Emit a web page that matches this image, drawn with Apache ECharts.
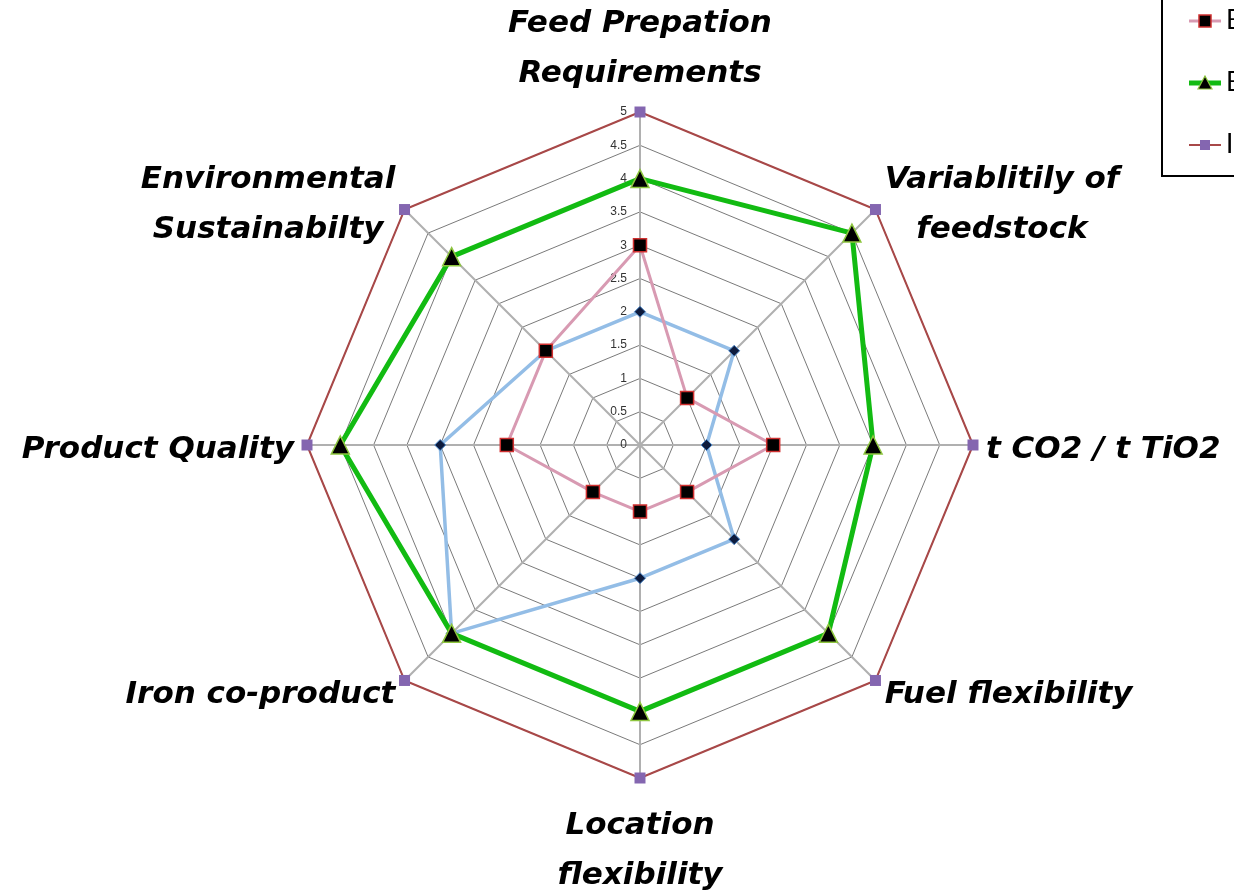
<!DOCTYPE html>
<html>
<head>
<meta charset="utf-8">
<script src="https://cdn.jsdelivr.net/npm/echarts@6/dist/echarts.min.js"></script>
<style>
  html, body { margin: 0; padding: 0; background: #fff; }
  #main { width: 1234px; height: 895px; }
</style>
</head>
<body>
<div id="main"></div>
<script>
// indicators, counterclockwise from the top
var indicatorNames = [
  'Feed Prepation\nRequirements',
  'Environmental\nSustainabilty',
  'Product Quality',
  'Iron co-product',
  'Location\nflexibility',
  'Fuel flexibility',
  't CO2 / t TiO2',
  'Variablitily of\nfeedstock'
];
var seriesNames = ['Chloride', 'Becher', 'Benilite', 'Ideal'];
var chlorideVals = [2, 2, 3, 4, 2, 2, 1, 2];
var becherVals = [3, 2, 2, 1, 1, 1, 2, 1];
var beniliteVals = [4, 4, 4.5, 4, 4, 4, 3.5, 4.5];
var idealVals = [5, 5, 5, 5, 5, 5, 5, 5];
var maxVal = 5;

var myChart = echarts.init(document.getElementById('main'));

// legend icon = short line with the marker on it
function legendIcon(lineColor, lineW, marker) {
  var svg = "<svg xmlns='http://www.w3.org/2000/svg' width='32' height='16'>" +
    "<line x1='0' y1='8' x2='32' y2='8' stroke='" + lineColor + "' stroke-width='" + lineW + "'/>" +
    marker + "</svg>";
  return 'image://data:image/svg+xml;charset=utf-8,' + encodeURIComponent(svg);
}

var nameFont = {
  color: '#000',
  fontFamily: 'DejaVu Sans',
  fontStyle: 'italic',
  fontWeight: 'bold',
  fontSize: 31,
  lineHeight: 50
};

var option = {
  backgroundColor: '#fff',
  animation: false,
  legend: {
    orient: 'vertical',
    left: 1162,
    top: -72,
    padding: [18, 10, 18, 27],
    itemGap: 36,
    itemWidth: 32,
    itemHeight: 16,
    borderColor: '#000',
    borderWidth: 2,
    textStyle: { fontFamily: 'Lato', fontSize: 26, lineHeight: 26, color: '#000' },
    data: [
      { name: seriesNames[0], icon: legendIcon('#93bde6', 3, "<rect x='11' y='3' width='10' height='10' transform='rotate(45 16 8)' fill='#0d1b3d'/>") },
      { name: seriesNames[1], icon: legendIcon('#d89ab2', 3, "<rect x='10' y='2' width='12' height='12' fill='#000' stroke='#d03030' stroke-width='1.5'/>") },
      { name: seriesNames[2], icon: legendIcon('#12bb12', 5, "<polygon points='16,1 23,14 9,14' fill='#000' stroke='#8ec63f' stroke-width='1.2'/>") },
      { name: seriesNames[3], icon: legendIcon('#a84848', 2, "<rect x='11' y='3' width='10' height='10' fill='#8466b0'/>") }
    ]
  },
  radar: [
    {
      center: [640, 445],
      radius: 333,
      startAngle: 90,
      shape: 'polygon',
      splitNumber: 10,
      indicator: indicatorNames.map(function (n) { return { name: n, min: 0, max: maxVal }; }),
      axisName: {
        padding: [10, 0, 0, 0],
        formatter: function (v) {
          return v.split('\n').map(function (s) { return '{n|' + s + '}'; }).join('\n');
        },
        rich: { n: Object.assign({ align: 'center' }, nameFont) }
      },
      nameGap: 13,
      splitArea: { show: false },
      splitLine: { lineStyle: { color: '#7a7a7a', width: 1 } },
      axisLine: { lineStyle: { color: '#b0b0b0', width: 2 } }
    },
    {
      // tick labels on the top axis only
      center: [640, 445],
      radius: 333,
      startAngle: 90,
      shape: 'polygon',
      splitNumber: 10,
      indicator: [{ name: '', min: 0, max: maxVal }],
      axisName: { show: false },
      splitArea: { show: false },
      splitLine: { show: false },
      axisLine: { show: false },
      axisTick: { show: false },
      axisLabel: { show: true, fontSize: 12, color: '#333', fontFamily: 'Liberation Sans', margin: 13 }
    }
  ],
  series: [
    {
      type: 'radar',
      radarIndex: 0,
      z: 3,
      data: [{
        name: seriesNames[0],
        value: chlorideVals,
        symbol: 'diamond',
        symbolSize: 11,
        lineStyle: { color: '#93bde6', width: 3.5 },
        itemStyle: { color: '#0d1b3d', borderColor: '#4a86c8', borderWidth: 1 }
      }, {
        name: seriesNames[1],
        value: becherVals,
        symbol: 'rect',
        symbolSize: 13,
        lineStyle: { color: '#d89ab2', width: 3 },
        itemStyle: { color: '#000', borderColor: '#d03030', borderWidth: 1.5 }
      }, {
        name: seriesNames[2],
        value: beniliteVals,
        symbol: 'triangle',
        symbolSize: 18,
        lineStyle: { color: '#12bb12', width: 5 },
        itemStyle: { color: '#000', borderColor: '#8ec63f', borderWidth: 1.5 }
      }, {
        name: seriesNames[3],
        value: idealVals,
        symbol: 'rect',
        symbolSize: 11,
        lineStyle: { color: '#a84848', width: 2 },
        itemStyle: { color: '#8466b0', borderColor: '#8466b0', borderWidth: 0 }
      }]
    }
  ]
};

myChart.setOption(option);
</script>
</body>
</html>
